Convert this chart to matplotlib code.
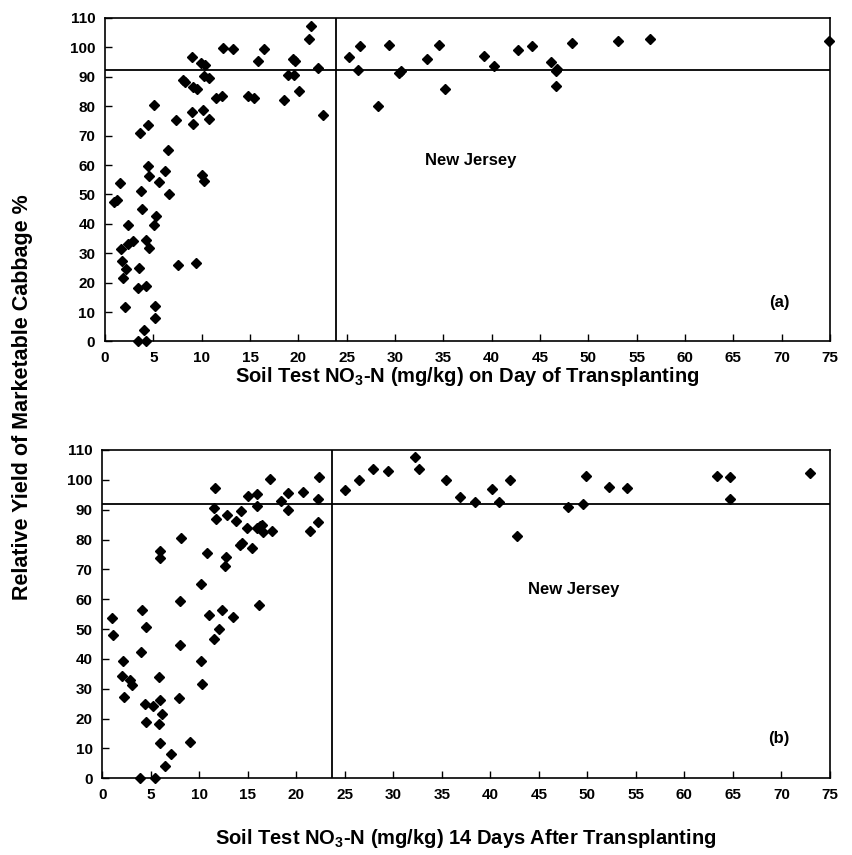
import matplotlib
matplotlib.use("Agg")
import matplotlib.pyplot as plt

plt.rcParams["font.family"] = ["Liberation Sans", "DejaVu Sans"]
plt.rcParams["font.weight"] = "bold"
plt.rcParams["mathtext.fontset"] = "custom"
plt.rcParams["mathtext.rm"] = "Liberation Sans:bold"
plt.rcParams["mathtext.default"] = "rm"

# (a) soil nitrate on day of transplanting vs relative yield
xa = [21.3, 21.1, 12.2, 13.2, 16.4, 9.0, 9.9, 10.3, 15.8, 19.4, 19.7, 22.0, 25.2,
      10.2, 10.8, 8.1, 8.3, 9.1, 9.5, 18.9, 19.5, 20.1, 11.5, 12.1, 14.8, 15.4, 18.5,
      22.6, 5.1, 9.0, 10.1, 10.8, 7.3, 9.1, 3.6, 4.4, 6.5, 4.4, 4.6, 6.2, 5.6, 10.0,
      10.2, 1.6, 3.7, 6.6, 0.9, 1.2, 3.8, 5.3, 5.1, 2.4, 2.4, 2.9, 4.2, 4.5, 1.65,
      1.76, 2.2, 3.5, 7.6, 9.4, 1.9, 3.4, 4.2, 2.07, 5.2, 5.2, 4.0, 3.4, 4.2,
      26.4, 26.2, 28.2, 29.4, 30.4, 30.65, 33.3, 34.5, 35.2, 39.2, 40.2, 42.7, 44.2,
      46.1, 46.6, 46.8, 46.7, 48.3, 53.1, 56.4, 74.9]
ya = [107.1, 102.8, 99.9, 99.4, 99.3, 96.8, 94.8, 94.0, 95.2, 96.1, 95.4, 93.1, 96.7,
      90.1, 89.5, 88.9, 88.2, 86.5, 85.8, 90.6, 90.5, 85.0, 82.7, 83.3, 83.6, 82.8, 82.2,
      77.0, 80.3, 78.0, 78.6, 75.8, 75.3, 74.0, 70.9, 73.5, 65.1, 59.6, 56.4, 57.8, 54.3, 56.7,
      54.7, 53.8, 51.0, 50.2, 47.3, 48.0, 45.0, 42.6, 39.6, 39.6, 33.3, 34.1, 34.6, 31.9, 31.4,
      27.5, 24.6, 25.0, 26.0, 26.8, 21.6, 18.2, 18.9, 11.7, 12.2, 7.9, 3.8, 0.0, 0.0,
      100.5, 92.3, 79.9, 100.7, 91.3, 92.1, 96.2, 100.8, 86.0, 97.1, 93.6, 99.0, 100.4,
      95.0, 92.0, 92.8, 86.9, 101.5, 102.0, 102.8, 102.2]
crit_a = (23.9, 92.2)

# (b) soil nitrate 14 days after transplanting vs relative yield
xb = [22.3, 17.3, 11.6, 25.0, 15.0, 15.9, 19.1, 20.7, 18.4, 22.2, 15.9, 11.5, 14.3,
      19.1, 11.7, 12.9, 13.8, 22.2, 14.9, 16.0, 16.3, 16.5, 16.6, 17.5, 21.4, 8.1, 5.9,
      6.0, 10.8, 14.2, 14.4, 15.4, 12.8, 12.6, 10.2, 8.0, 16.2, 4.05, 11.0, 12.35, 13.45,
      1.0, 1.07, 4.46, 12.0, 11.5, 8.0, 4.0, 2.1, 10.2, 2.06, 2.85, 3.1, 5.8, 10.3, 2.2,
      7.9, 4.4, 5.25, 5.9, 6.2, 4.5, 5.8, 6.0, 9.0, 7.1, 6.45, 3.9, 5.4,
      26.5, 27.95, 29.5, 32.2, 32.6, 35.4, 36.9, 38.4, 40.2, 40.9, 42.0, 42.8, 48.0, 49.6,
      49.9, 52.2, 54.05, 63.4, 64.75, 64.7, 73.0]
yb = [100.9, 100.4, 97.2, 96.7, 94.5, 95.3, 95.6, 95.8, 92.9, 93.6, 91.1, 90.6, 89.4,
      89.8, 87.0, 88.1, 86.2, 85.9, 83.8, 83.7, 84.5, 84.9, 82.5, 83.0, 83.0, 80.6, 76.2,
      73.7, 75.4, 78.0, 78.8, 77.3, 74.2, 71.0, 65.1, 59.4, 57.9, 56.3, 54.6, 56.4, 54.2,
      53.6, 47.9, 50.7, 49.9, 46.8, 44.6, 42.2, 39.3, 39.3, 34.2, 33.0, 31.1, 33.9, 31.6, 27.4,
      26.8, 24.8, 24.3, 26.1, 21.4, 18.9, 18.1, 11.8, 12.1, 8.1, 4.0, 0.0, 0.0,
      100.1, 103.5, 102.8, 107.8, 103.6, 99.8, 94.1, 92.7, 96.8, 92.7, 100.0, 81.1, 90.9, 91.8,
      101.4, 97.6, 97.2, 101.4, 101.0, 93.5, 102.4]
crit_b = (23.7, 91.8)

xticks = list(range(0, 80, 5))
yticks = list(range(0, 120, 10))

fig = plt.figure(figsize=(8.53, 8.55), dpi=100)
ax1 = fig.add_axes([0.1231, 0.6006, 0.850, 0.3784])
ax2 = fig.add_axes([0.1199, 0.0897, 0.853, 0.384])

panels = [(ax1, xa, ya, crit_a, "(a)", "Soil Test NO$_3$-N (mg/kg) on Day of Transplanting", 0),
          (ax2, xb, yb, crit_b, "(b)", "Soil Test NO$_3$-N (mg/kg) 14 Days After Transplanting", 18)]

for ax, x, y, crit, tag, xlab, pad in panels:
    ax.plot(x, y, "D", color="black", markersize=5, clip_on=False, zorder=3)
    ax.axvline(crit[0], color="black", lw=1.3)
    ax.axhline(crit[1], color="black", lw=1.3)
    ax.set_xlim(0, 75)
    ax.set_ylim(0, 110)
    ax.set_xticks(xticks)
    ax.set_yticks(yticks)
    ax.tick_params(direction="in", length=5, width=1, labelsize=11, pad=7)
    for lb in ax.get_xticklabels() + ax.get_yticklabels():
        lb.set_fontweight("bold")
    for s in ax.spines.values():
        s.set_linewidth(1.2)
    ax.set_xlabel(xlab, fontsize=14.5, fontweight="bold", labelpad=pad)
    ax.text(0.5, 0.5, "New Jersey", transform=ax.transAxes, fontsize=12,
            fontweight="bold", ha="center", va="center")
    ax.text(0.93, 0.12, tag, transform=ax.transAxes, fontsize=12,
            fontweight="bold", ha="center", va="center")

ax1.texts[0].set_position((0.505, 0.56))
ax2.texts[0].set_position((0.648, 0.575))

fig.text(0.026, 0.535, "Relative Yield of Marketable Cabbage %", rotation=90,
         fontsize=15.5, fontweight="bold", ha="center", va="center")

fig.savefig("out.png", dpi=100)
